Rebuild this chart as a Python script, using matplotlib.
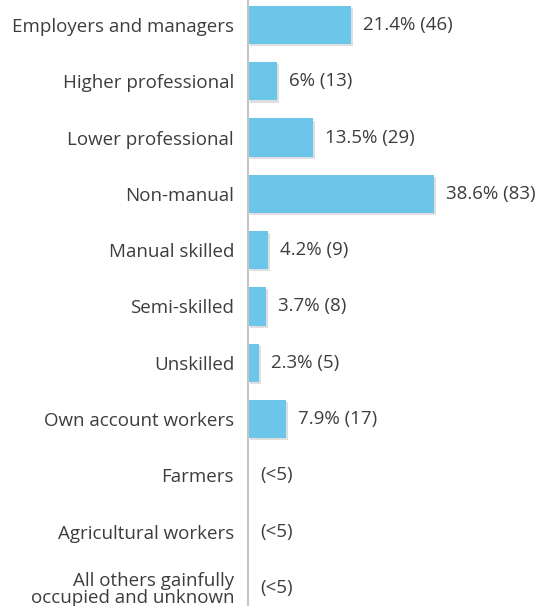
import matplotlib.pyplot as plt
import matplotlib.patheffects as pe

categories = ['Employers and managers', 'Higher professional', 'Lower professional',
              'Non-manual', 'Manual skilled', 'Semi-skilled', 'Unskilled',
              'Own account workers', 'Farmers', 'Agricultural workers',
              'All others gainfully\noccupied and unknown']
percent = [21.4, 6, 13.5, 38.6, 4.2, 3.7, 2.3, 7.9, 0, 0, 0]
counts = [46, 13, 29, 83, 9, 8, 5, 17, None, None, None]
pct_labels = ['21.4%', '6%', '13.5%', '38.6%', '4.2%', '3.7%', '2.3%', '7.9%', '', '', '']

plt.rcParams['font.family'] = ['Open Sans', 'DejaVu Sans']
text_color = '#3d3d3d'

fig = plt.figure(figsize=(5.42, 6.06), dpi=100)
ax = fig.add_axes([248 / 542, 0, 1 - 248 / 542, 1])

ypos = list(range(len(categories)))
bars = ax.barh(ypos, percent, height=0.68, color='#6cc6ea', zorder=2)
for b in bars:
    b.set_path_effects([pe.SimplePatchShadow(offset=(1.5, -1.5), shadow_rgbFace='#b0b0b0', alpha=0.4),
                        pe.Normal()])

for y, p, c, lab in zip(ypos, percent, counts, pct_labels):
    if c is None:
        txt = '(<5)'
    else:
        txt = f'{lab} ({c})'
    ax.annotate(txt, (p, y), xytext=(12, 0), textcoords='offset pixels',
                va='center', ha='left', fontsize=13.5, color=text_color)

ax.set_xlim(0, (542 - 248) / 4.82)
ax.set_ylim(10.32, -0.444)
ax.set_yticks(ypos)
ax.set_yticklabels(categories, fontsize=13.5, color=text_color, linespacing=0.9)
ax.tick_params(axis='y', length=0, pad=10)
ax.set_xticks([])
for s in ['top', 'right', 'bottom']:
    ax.spines[s].set_visible(False)
ax.spines['left'].set_color('#c4c4c4')
ax.spines['left'].set_linewidth(1.5)

plt.savefig('out.png', dpi=100)
